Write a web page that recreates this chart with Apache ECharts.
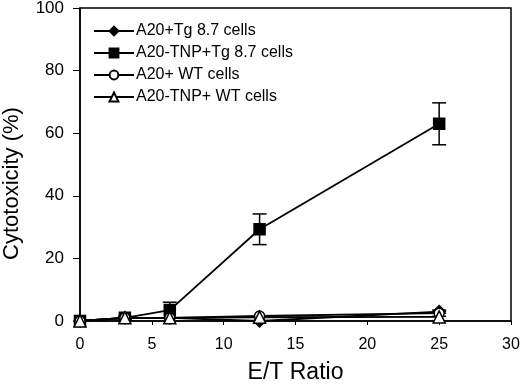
<!DOCTYPE html>
<html>
<head>
<meta charset="utf-8">
<script src="https://cdn.jsdelivr.net/npm/echarts@6/dist/echarts.min.js"></script>
<style>
  html, body { margin: 0; padding: 0; background: #fff; }
  #main { width: 520px; height: 387px; }
</style>
</head>
<body>
<div id="main"></div>
<script>
// E/T ratios
var ratios = [0, 3.125, 6.25, 12.5, 25];

var tgA20 = [0, 1, 1, 0, 3];
var tgTnp = [0, 1, 3.5, 29.3, 63];
var wtA20 = [0, 1, 1, 1.6, 2.5];
var wtTnp = [0, 1, 1, 1.2, 1.3];

// error bar half-widths
var tgTnpErr = [0, 0.5, 2.5, 4.9, 6.7];
var wtA20Err = [0, 0, 0, 0, 1];
var wtTnpErr = [0, 0, 0, 0, 1.2];

var names = ['A20+Tg 8.7 cells', 'A20-TNP+Tg 8.7 cells', 'A20+ WT cells', 'A20-TNP+ WT cells'];
var xTicks = [0, 5, 10, 15, 20, 25, 30];
var yTicks = [0, 20, 40, 60, 80, 100];

var font = 'Liberation Sans, Arial, sans-serif';

function pairs(ys) {
  return ratios.map(function (x, i) { return [x, ys[i]]; });
}

function errSeries(ys, errs) {
  var data = ratios.map(function (x, i) { return [x, ys[i] - errs[i], ys[i] + errs[i]]; })
    .filter(function (d) { return d[2] - d[1] > 0; });
  return {
    type: 'custom',
    silent: true,
    z: 1,
    data: data,
    renderItem: function (params, api) {
      var lo = api.coord([api.value(0), api.value(1)]);
      var hi = api.coord([api.value(0), api.value(2)]);
      var w = 7;
      var st = { stroke: '#000', lineWidth: 1.5 };
      return {
        type: 'group',
        children: [
          { type: 'line', shape: { x1: lo[0], y1: lo[1], x2: hi[0], y2: hi[1] }, style: st },
          { type: 'line', shape: { x1: lo[0] - w, y1: lo[1], x2: lo[0] + w, y2: lo[1] }, style: st },
          { type: 'line', shape: { x1: hi[0] - w, y1: hi[1], x2: hi[0] + w, y2: hi[1] }, style: st }
        ]
      };
    }
  };
}

function lineSeries(name, ys, symbol, size) {
  return {
    name: name,
    type: 'line',
    data: pairs(ys),
    symbol: symbol,
    symbolSize: size,
    showAllSymbol: true,
    z: 3,
    lineStyle: { color: '#000', width: 1.8 },
    itemStyle: { color: '#000', borderColor: '#000', borderWidth: 1.5 },
    emphasis: { disabled: true }
  };
}

var chart = echarts.init(document.getElementById('main'));
chart.setOption({
  animation: false,
  backgroundColor: '#fff',
  grid: {
    left: 80, right: 9, top: 8, bottom: 66,
    outerBoundsMode: 'none', containLabel: false,
    show: true, borderColor: '#000', borderWidth: 1.5
  },
  legend: {
    orient: 'vertical',
    left: 88,
    top: 18,
    itemWidth: 40,
    itemHeight: 11,
    itemGap: 6,
    data: names,
    textStyle: { fontFamily: font, fontSize: 16, color: '#000', padding: [0, 0, 0, -3] }
  },
  xAxis: {
    type: 'value',
    min: 0,
    max: 30,
    interval: 5,
    name: 'E/T Ratio',
    nameLocation: 'middle',
    nameGap: 40,
    nameTextStyle: { fontFamily: font, fontSize: 23, color: '#000' },
    axisLine: { lineStyle: { color: '#000', width: 1.5 } },
    axisTick: { inside: false, length: 4, lineStyle: { color: '#000' } },
    axisLabel: {
      fontFamily: font, fontSize: 16, color: '#000', margin: 16,
      formatter: function (v) { return xTicks.indexOf(v) >= 0 ? String(v) : ''; }
    },
    splitLine: { show: false }
  },
  yAxis: {
    type: 'value',
    min: 0,
    max: 100,
    interval: 20,
    name: 'Cytotoxicity (%)',
    nameLocation: 'middle',
    nameGap: 57,
    nameTextStyle: { fontFamily: font, fontSize: 22, color: '#000', padding: [0, 38, 0, 0] },
    axisLine: { show: true, lineStyle: { color: '#000', width: 1.5 } },
    axisTick: { show: true, inside: false, length: 7, lineStyle: { color: '#000' } },
    axisLabel: {
      fontFamily: font, fontSize: 17, color: '#000', margin: 16,
      formatter: function (v) { return yTicks.indexOf(v) >= 0 ? String(v) : ''; }
    },
    splitLine: { show: false }
  },
  series: [
    errSeries(tgTnp, tgTnpErr),
    errSeries(wtA20, wtA20Err),
    errSeries(wtTnp, wtTnpErr),
    lineSeries(names[0], tgA20, 'diamond', 12),
    lineSeries(names[1], tgTnp, 'rect', 11),
    Object.assign(lineSeries(names[2], wtA20, 'circle', 10), {
      itemStyle: { color: '#fff', borderColor: '#000', borderWidth: 1.5 }
    }),
    Object.assign(lineSeries(names[3], wtTnp, 'triangle', 12), {
      itemStyle: { color: '#fff', borderColor: '#000', borderWidth: 1.5 }
    })
  ]
});
</script>
</body>
</html>
